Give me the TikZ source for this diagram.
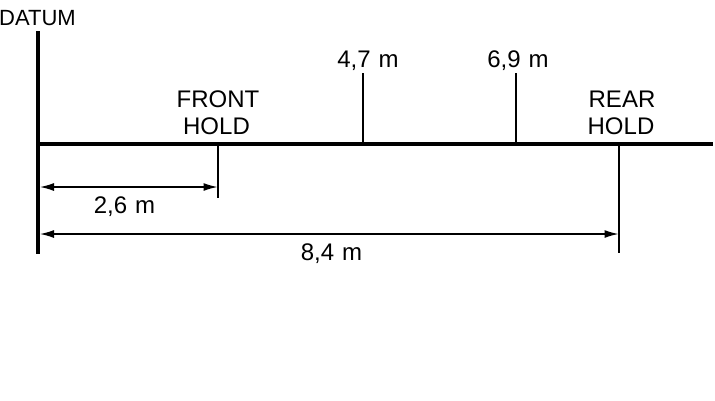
\documentclass[tikz,border=0pt]{standalone}
\usepackage{fontspec}
\setmainfont{Liberation Sans}[WordSpace=1.2]
\usetikzlibrary{arrows.meta}
\begin{document}
\begin{tikzpicture}[x=1pt,y=-1pt,
  thick line/.style={line width=4pt},
  thin line/.style={line width=1.5pt},
  dim/.style={line width=1.3pt,{Latex[length=14pt,width=8pt]}-{Latex[length=14pt,width=8pt]}},
  lbl/.style={font=\fontsize{24}{27}\selectfont,inner sep=0pt,anchor=base,align=center}]
\useasboundingbox (0,0) rectangle (715,400);
% datum and main line
\coordinate (dtop) at (38,31);
\coordinate (dbot) at (38,254);
\coordinate (mleft) at (36,143.5);
\coordinate (mright) at (713,143.5);
\draw[thick line] (dtop) -- (dbot);
\draw[thick line] (mleft) -- (mright);
\node[lbl,font=\fontsize{22}{26}\selectfont,anchor=base west] (datum) at (-1,25) {DATUM};
% front hold
\coordinate (fh) at (218,143.5);
\coordinate (fhb) at (218,198);
\draw[thin line] (fh) -- (fhb);
\node[lbl] (front) at (218,107) {FRONT};
\node[lbl] (fhold) at (216.5,134) {HOLD};
% rear hold
\coordinate (rh) at (619,143.5);
\coordinate (rhb) at (619,253);
\draw[thin line] (rh) -- (rhb);
\node[lbl] (rear) at (622,107) {REAR};
\node[lbl] (rhold) at (621,134) {HOLD};
% 4,7 and 6,9 ticks
\coordinate (t47a) at (363,73);
\coordinate (t47b) at (363,143.5);
\coordinate (t69a) at (516,73);
\coordinate (t69b) at (516,143.5);
\draw[thin line] (t47a) -- (t47b);
\draw[thin line] (t69a) -- (t69b);
\node[lbl] (l47) at (368,67) {4,7 m};
\node[lbl] (l69) at (518,67) {6,9 m};
% dimensions
\coordinate (a1) at (40,187);
\coordinate (a2) at (217.5,187);
\draw[dim] (a1) -- (a2);
\node[lbl] (l26) at (124.5,213.5) {2,6 m};
\coordinate (b1) at (40,234);
\coordinate (b2) at (618.5,234);
\draw[dim] (b1) -- (b2);
\node[lbl] (l84) at (331.5,260) {8,4 m};
\end{tikzpicture}
\end{document}
